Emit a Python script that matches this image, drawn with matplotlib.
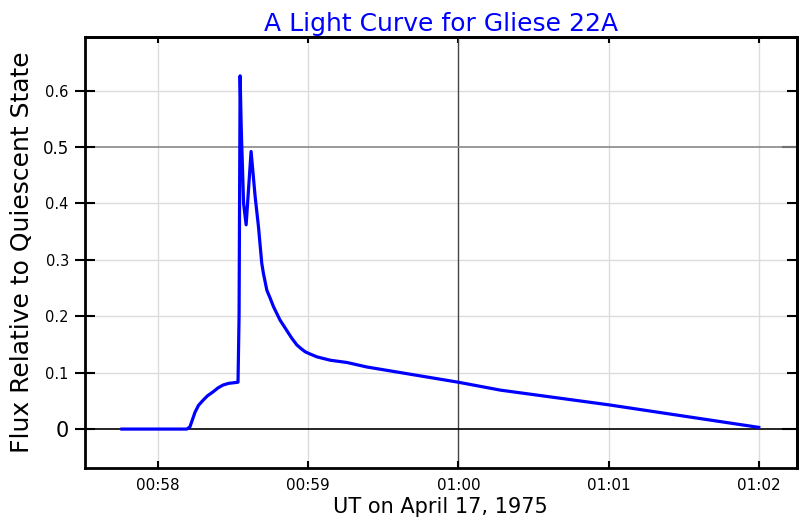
import matplotlib.pyplot as plt
from matplotlib.ticker import FixedLocator, FixedFormatter

# light curve, x in minutes after 00:00 UT
minutes = [57.76, 58.0, 58.193, 58.213, 58.247, 58.270, 58.300, 58.330, 58.367,
           58.400, 58.433, 58.470, 58.533,
           58.540, 58.547, 58.553, 58.557, 58.562, 58.570, 58.587, 58.620,
           58.647, 58.669, 58.691, 58.702, 58.725, 58.747, 58.769, 58.791,
           58.813, 58.835, 58.869, 58.891, 58.925, 58.951, 58.980, 59.013,
           59.058, 59.147, 59.258, 59.391, 60.0, 60.28, 61.0, 62.0]
flux = [0.0, 0.0, 0.0, 0.004, 0.030, 0.042, 0.051, 0.059, 0.066,
        0.073, 0.078, 0.081, 0.083,
        0.20, 0.626, 0.55, 0.51, 0.47, 0.40, 0.362, 0.492,
        0.412, 0.359, 0.294, 0.276, 0.246, 0.232, 0.217, 0.205,
        0.193, 0.184, 0.170, 0.161, 0.149, 0.143, 0.137, 0.133,
        0.128, 0.122, 0.118, 0.110, 0.083, 0.069, 0.043, 0.003]

x_ticks = [58, 59, 60, 61, 62]
x_labels = ['00:58', '00:59', '01:00', '01:01', '01:02']
y_minor = [0.1, 0.2, 0.3, 0.4, 0.6]
y_major = [0, 0.5]

fig = plt.figure(figsize=(8, 5.2), dpi=100)
ax = fig.add_axes([0.106, 0.1, 0.89, 0.829])

# grid: light lines plus darker reference lines
for xv in x_ticks:
    if xv != 60:
        ax.axvline(xv, color='#dcdcdc', lw=1, zorder=0)
for yv in y_minor:
    ax.axhline(yv, color='#dcdcdc', lw=1, zorder=0)
ax.axvline(60, color='#444444', lw=1, zorder=1)
ax.axhline(0.5, color='#888888', lw=1.2, zorder=1)
ax.axhline(0, color='black', lw=1.2, zorder=1)

ax.plot(minutes, flux, color='#0000ff', lw=2.3, zorder=3, solid_joinstyle='round')

ax.set_xlim(57.513, 62.253)
ax.set_ylim(-0.069, 0.695)

for s in ax.spines.values():
    s.set_linewidth(2)

ax.xaxis.set_major_locator(FixedLocator(x_ticks))
ax.xaxis.set_major_formatter(FixedFormatter(x_labels))
ax.tick_params(axis='x', which='major', direction='in', length=5, width=1.5,
               labelsize=11, pad=7, top=False)

ax.yaxis.set_major_locator(FixedLocator(y_major))
ax.yaxis.set_minor_locator(FixedLocator(y_minor))
ax.yaxis.set_minor_formatter(FixedFormatter(['0.1', '0.2', '0.3', '0.4', '0.6']))
ax.yaxis.set_major_formatter(FixedFormatter(['0', '0.5']))
ax.tick_params(axis='y', which='minor', direction='inout', length=15, width=1.5,
               labelsize=10.5, pad=4, right=False)
ax.tick_params(axis='y', which='major', direction='inout', length=15, width=1.5,
               labelsize=12, pad=4, right=False)
ax.yaxis.get_major_ticks()[0].label1.set_fontsize(15)

# right and top frames: inward ticks only
sec_y = ax.secondary_yaxis('right')
sec_y.yaxis.set_major_locator(FixedLocator(y_major))
sec_y.yaxis.set_minor_locator(FixedLocator(y_minor))
sec_y.tick_params(which='major', direction='in', length=11, width=1.5, labelright=False)
sec_y.tick_params(which='minor', direction='in', length=7, width=1.5, labelright=False)
sec_y.spines['right'].set_linewidth(2)

sec_x = ax.secondary_xaxis('top')
sec_x.xaxis.set_major_locator(FixedLocator(x_ticks))
sec_x.tick_params(direction='in', length=4, width=1.5, labeltop=False)
sec_x.spines['top'].set_linewidth(2)

ax.set_title('A Light Curve for Gliese 22A', color='#0000ff', fontsize=18, pad=4)
ax.set_xlabel('UT on April 17, 1975', fontsize=15, labelpad=3)
ax.set_ylabel('Flux Relative to Quiescent State', fontsize=18, labelpad=6)

fig.savefig('out.png', dpi=100)
plt.close(fig)
